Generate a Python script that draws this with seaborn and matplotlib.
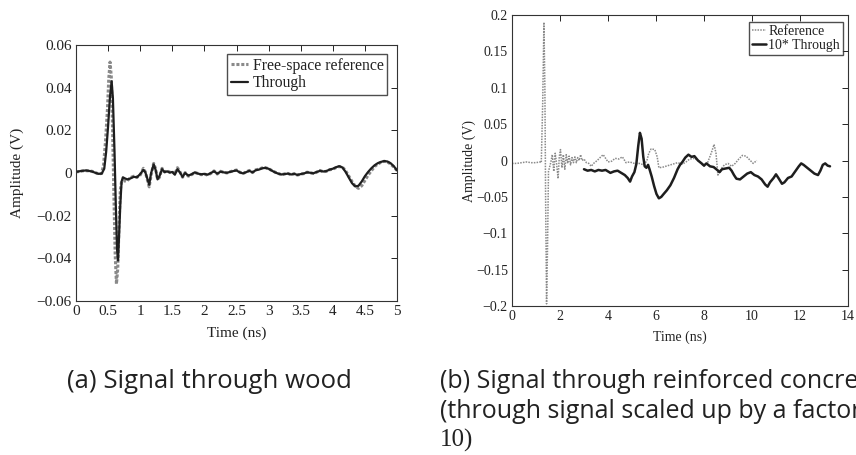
import numpy as np
import pandas as pd
import matplotlib
matplotlib.use("Agg")
import matplotlib.pyplot as plt
from matplotlib.ticker import FixedLocator, FixedFormatter
import seaborn as sns

# ---- (a) Signal through wood ----
wood_ref_t = [0.00, 0.05, 0.10, 0.15, 0.20, 0.25, 0.30, 0.35, 0.40, 0.43, 0.46, 0.49, 0.51, 0.53,
              0.55, 0.57, 0.59, 0.61, 0.63, 0.65, 0.67, 0.69, 0.71, 0.74, 0.78, 0.82, 0.86, 0.90,
              0.95, 1.00, 1.05, 1.08, 1.11, 1.14, 1.17, 1.21, 1.24, 1.27, 1.30, 1.34, 1.38, 1.42,
              1.46, 1.50, 1.54, 1.58, 1.62, 1.66, 1.70, 1.75, 1.80, 1.85, 1.90, 1.95, 2.00, 2.05,
              2.10, 2.15, 2.20, 2.25, 2.30, 2.35, 2.40, 2.45, 2.50, 2.55, 2.60, 2.65, 2.70, 2.75,
              2.80, 2.85, 2.90, 2.95, 3.00, 3.05, 3.10, 3.15, 3.20, 3.25, 3.30, 3.35, 3.40, 3.45,
              3.50, 3.55, 3.60, 3.65, 3.70, 3.75, 3.80, 3.85, 3.90, 3.95, 4.00, 4.05, 4.10, 4.15,
              4.20, 4.25, 4.30, 4.35, 4.40, 4.45, 4.50, 4.55, 4.60, 4.65, 4.70, 4.75, 4.80, 4.85,
              4.90, 4.95, 5.00]
wood_ref_v = [0.0005, 0.0007, 0.0010, 0.0011, 0.0010, 0.0008, 0.0002, -0.0004, -0.0002, 0.004,
              0.015, 0.030, 0.044, 0.052, 0.045, 0.020, -0.010, -0.038, -0.052, -0.045, -0.025,
              -0.008, -0.004, -0.0035, -0.004, -0.003, -0.002, -0.0015, -0.0020, -0.0010, 0.0022,
              0.0005, -0.003, -0.0065, -0.001, 0.0045, 0.002, -0.003, -0.002, 0.0022, 0.0005,
              0.0010, 0.0004, 0.0006, -0.0005, 0.0025, 0.0005, -0.0020, 0.0002, -0.0015, -0.0008,
              0.0002, -0.0002, -0.0008, -0.0005, -0.0010, -0.0002, 0.0010, -0.0005, 0.0008, 0.0004,
              0.0000, 0.0006, 0.0010, 0.0014, 0.0004, -0.0003, 0.0005, 0.0012, 0.0002, 0.0015,
              0.0018, 0.0024, 0.0025, 0.0020, 0.0012, 0.0004, -0.0002, -0.0008, -0.0004, -0.0002,
              -0.0008, -0.0003, -0.0010, -0.0005, -0.0003, 0.0004, 0.0000, -0.0002, 0.0004, 0.0012,
              0.0006, 0.0008, 0.0015, 0.0018, 0.0025, 0.0030, 0.0028, 0.0010, -0.0015, -0.0040,
              -0.0062, -0.0072, -0.0060, -0.0035, -0.0010, 0.0010, 0.0030, 0.0042, 0.0050, 0.0055,
              0.0052, 0.0042, 0.0028, 0.0012]

wood_thr_t = [0.00, 0.05, 0.10, 0.15, 0.20, 0.25, 0.30, 0.35, 0.40, 0.44, 0.47, 0.50, 0.53, 0.555,
              0.575, 0.60, 0.62, 0.64, 0.655, 0.67, 0.69, 0.71, 0.73, 0.76, 0.80, 0.85, 0.90, 0.95,
              1.00, 1.05, 1.08, 1.11, 1.14, 1.17, 1.21, 1.24, 1.27, 1.30, 1.34, 1.38, 1.42, 1.46,
              1.50, 1.54, 1.58, 1.62, 1.66, 1.70, 1.75, 1.80, 1.85, 1.90, 1.95, 2.00, 2.05, 2.10,
              2.15, 2.20, 2.25, 2.30, 2.35, 2.40, 2.45, 2.50, 2.55, 2.60, 2.65, 2.70, 2.75, 2.80,
              2.85, 2.90, 2.95, 3.00, 3.05, 3.10, 3.15, 3.20, 3.25, 3.30, 3.35, 3.40, 3.45, 3.50,
              3.55, 3.60, 3.65, 3.70, 3.75, 3.80, 3.85, 3.90, 3.95, 4.00, 4.05, 4.10, 4.15, 4.20,
              4.25, 4.30, 4.35, 4.40, 4.45, 4.50, 4.55, 4.60, 4.65, 4.70, 4.75, 4.80, 4.85, 4.90,
              4.95, 5.00]
wood_thr_v = [0.0005, 0.0008, 0.0010, 0.0012, 0.0010, 0.0007, 0.0001, -0.0004, -0.0003, 0.002,
              0.010, 0.022, 0.036, 0.043, 0.035, 0.010, -0.015, -0.036, -0.041, -0.030, -0.015,
              -0.004, -0.002, -0.0025, -0.003, -0.0025, -0.0018, -0.0020, -0.0005, 0.0015, 0.0003,
              -0.0025, -0.0055, 0.0000, 0.0040, 0.0015, -0.0030, -0.0015, 0.0018, 0.0004, 0.0008,
              0.0002, 0.0005, -0.0008, 0.0018, 0.0002, -0.0018, 0.0000, -0.0012, -0.0006, 0.0003,
              -0.0003, -0.0006, -0.0004, -0.0008, 0.0000, 0.0008, -0.0003, 0.0006, 0.0003, 0.0001,
              0.0005, 0.0009, 0.0012, 0.0003, -0.0002, 0.0004, 0.0010, 0.0003, 0.0013, 0.0016,
              0.0022, 0.0024, 0.0020, 0.0011, 0.0003, -0.0003, -0.0007, -0.0005, -0.0003, -0.0007,
              -0.0004, -0.0009, -0.0005, -0.0002, 0.0003, 0.0001, -0.0001, 0.0005, 0.0010, 0.0007,
              0.0009, 0.0016, 0.0020, 0.0027, 0.0032, 0.0026, 0.0005, -0.0022, -0.0048, -0.0063,
              -0.0060, -0.0040, -0.0015, 0.0005, 0.0022, 0.0036, 0.0046, 0.0052, 0.0056, 0.0054,
              0.0046, 0.0032, 0.0012]

wood_xticks = [0, 0.5, 1, 1.5, 2, 2.5, 3, 3.5, 4, 4.5, 5]
wood_xlabels = ["0", "0.5", "1", "1.5", "2", "2.5", "3", "3.5", "4", "4.5", "5"]
wood_yticks = [-0.06, -0.04, -0.02, 0, 0.02, 0.04, 0.06]
wood_ylabels = ["\u22120.06", "\u22120.04", "\u22120.02", "0", "0.02", "0.04", "0.06"]

# ---- (b) Signal through reinforced concrete ----
conc_ref_t = [0.0, 0.2, 0.4, 0.6, 0.8, 1.0, 1.15, 1.22, 1.28, 1.33, 1.37, 1.40, 1.44, 1.48, 1.52,
              1.56, 1.62, 1.68, 1.74, 1.80, 1.86, 1.92, 1.97, 2.02, 2.08, 2.14, 2.20, 2.26, 2.32,
              2.38, 2.44, 2.50, 2.56, 2.62, 2.68, 2.74, 2.80, 2.86, 2.92, 3.00, 3.10, 3.20, 3.30,
              3.40, 3.55, 3.70, 3.80, 3.90, 4.00, 4.15, 4.30, 4.45, 4.60, 4.75, 4.90, 5.10, 5.30,
              5.50, 5.62, 5.70, 5.80, 5.95, 6.05, 6.12, 6.30, 6.50, 6.70, 6.90, 7.10, 7.25, 7.40,
              7.60, 7.80, 8.00, 8.15, 8.30, 8.42, 8.50, 8.58, 8.70, 8.85, 9.00, 9.15, 9.30, 9.45,
              9.60, 9.75, 9.90, 10.05, 10.20]
conc_ref_v = [-0.004, -0.004, -0.003, -0.002, -0.003, -0.003, -0.002, -0.003, 0.080, 0.190, 0.100,
              -0.050, -0.197, -0.120, -0.015, -0.010, -0.002, 0.008, -0.015, 0.010, -0.005, -0.025,
              0.005, 0.015, -0.010, 0.008, -0.012, 0.008, -0.004, 0.006, -0.006, 0.004, -0.003,
              0.005, -0.003, 0.004, 0.000, 0.008, 0.000, 0.002, -0.003, -0.004, -0.008, -0.004,
              0.000, 0.005, 0.008, 0.003, -0.002, -0.001, 0.003, 0.002, 0.005, -0.003, -0.002,
              -0.004, -0.004, -0.006, 0.000, 0.010, 0.016, 0.015, 0.005, -0.010, -0.009, -0.007,
              -0.005, -0.003, -0.005, -0.002, 0.002, 0.003, -0.001, -0.008, -0.003, 0.010, 0.022,
              0.010, -0.020, -0.012, -0.006, -0.004, -0.008, -0.004, 0.002, 0.007, 0.006, 0.001,
              -0.004, 0.000]

conc_thr_t = [3.00, 3.15, 3.30, 3.45, 3.60, 3.75, 3.90, 4.00, 4.10, 4.25, 4.40, 4.55, 4.70, 4.82,
              4.92, 5.00, 5.10, 5.18, 5.26, 5.33, 5.40, 5.47, 5.53, 5.60, 5.67, 5.73, 5.82, 5.92,
              6.02, 6.12, 6.22, 6.32, 6.45, 6.60, 6.75, 6.90, 7.00, 7.10, 7.22, 7.35, 7.48, 7.60,
              7.75, 7.90, 8.00, 8.10, 8.25, 8.40, 8.55, 8.65, 8.75, 8.90, 9.05, 9.15, 9.25, 9.35,
              9.50, 9.65, 9.80, 9.95, 10.10, 10.25, 10.40, 10.55, 10.65, 10.75, 10.90, 11.00, 11.10,
              11.25, 11.35, 11.50, 11.65, 11.80, 11.95, 12.05, 12.15, 12.30, 12.45, 12.60, 12.75,
              12.85, 12.95, 13.05, 13.15, 13.25]
conc_thr_v = [-0.012, -0.014, -0.013, -0.015, -0.013, -0.014, -0.013, -0.015, -0.017, -0.015,
              -0.014, -0.017, -0.020, -0.024, -0.029, -0.022, -0.016, -0.005, 0.020, 0.038, 0.030,
              0.005, -0.008, -0.010, -0.006, -0.012, -0.022, -0.035, -0.046, -0.052, -0.050,
              -0.046, -0.041, -0.034, -0.024, -0.012, -0.006, -0.002, 0.004, 0.008, 0.005, 0.006,
              0.000, -0.004, -0.007, -0.004, -0.008, -0.009, -0.013, -0.016, -0.012, -0.011,
              -0.010, -0.014, -0.020, -0.025, -0.026, -0.022, -0.018, -0.016, -0.020, -0.022,
              -0.026, -0.033, -0.036, -0.030, -0.024, -0.019, -0.024, -0.032, -0.030, -0.024,
              -0.022, -0.015, -0.008, -0.004, -0.006, -0.010, -0.014, -0.018, -0.020, -0.014,
              -0.006, -0.004, -0.007, -0.008]

conc_xticks = [0, 2, 4, 6, 8, 10, 12, 14]
conc_xlabels = ["0", "2", "4", "6", "8", "10", "12", "14"]
conc_yticks = [-0.2, -0.15, -0.1, -0.05, 0, 0.05, 0.1, 0.15, 0.2]
conc_ylabels = ["\u22120.2", "\u22120.15", "\u22120.1", "\u22120.05", "0", "0.05", "0.1", "0.15", "0.2"]

caption_a = "(a) Signal through wood"
caption_b1 = "(b) Signal through reinforced concrete"
caption_b2 = "(through signal scaled up by a factor of"
caption_b3 = "10)"

sns.set_theme(style="white")
plt.rcParams["font.family"] = ["Liberation Serif", "DejaVu Serif"]

REF_COLOR = "#8a8a8a"
THR_COLOR = "#1e1e1e"

fig = plt.figure(figsize=(8.56, 4.55), dpi=100)
ax_a = fig.add_axes([76 / 856, 1 - 301 / 455, 321 / 856, 256 / 455])
ax_b = fig.add_axes([512 / 856, 1 - 306 / 455, 336 / 856, 291 / 455])


def style_axes(ax, xt, xl, yt, yl, xlim, ylim, size, ylpad, xlpad):
    ax.set_xlim(*xlim)
    ax.set_ylim(*ylim)
    ax.xaxis.set_major_locator(FixedLocator(xt))
    ax.xaxis.set_major_formatter(FixedFormatter(xl))
    ax.yaxis.set_major_locator(FixedLocator(yt))
    ax.yaxis.set_major_formatter(FixedFormatter(yl))
    ax.tick_params(direction="in", length=4, width=0.7, colors="#222222",
                   top=True, right=True, labelsize=size, pad=3)
    for s in ax.spines.values():
        s.set_visible(True)
        s.set_linewidth(0.8)
        s.set_color("#333333")
    ax.set_xlabel("Time (ns)", fontsize=size, color="#222222", labelpad=xlpad)
    ax.set_ylabel("Amplitude (V)", fontsize=size, color="#222222", labelpad=ylpad)


# Panel (a)
df_a_ref = pd.DataFrame({"t": wood_ref_t, "v": wood_ref_v})
df_a_thr = pd.DataFrame({"t": wood_thr_t, "v": wood_thr_v})
sns.lineplot(data=df_a_ref, x="t", y="v", ax=ax_a, color=REF_COLOR, lw=2.2,
             linestyle=(0, (1, 0.6)), label="Free-space reference")
sns.lineplot(data=df_a_thr, x="t", y="v", ax=ax_a, color=THR_COLOR, lw=1.6, label="Through")
style_axes(ax_a, wood_xticks, wood_xlabels, wood_yticks, wood_ylabels, (0, 5), (-0.06, 0.06),
           11, 9, 6)
leg = ax_a.legend(loc="upper right", bbox_to_anchor=(0.97, 0.965), fontsize=11.3, frameon=True,
                  fancybox=False, edgecolor="#222222", handlelength=1.1, handletextpad=0.3,
                  borderpad=0.25, labelspacing=0.1, borderaxespad=0)
leg.get_frame().set_linewidth(1.0)
for txt in leg.get_texts():
    txt.set_color("#222222")

# Panel (b)
df_b_ref = pd.DataFrame({"t": conc_ref_t, "v": conc_ref_v})
df_b_thr = pd.DataFrame({"t": conc_thr_t, "v": conc_thr_v})
sns.lineplot(data=df_b_ref, x="t", y="v", ax=ax_b, color=REF_COLOR, lw=1.1,
             linestyle=(0, (1, 0.8)), label="Reference")
sns.lineplot(data=df_b_thr, x="t", y="v", ax=ax_b, color=THR_COLOR, lw=1.8, label="10* Through")
style_axes(ax_b, conc_xticks, conc_xlabels, conc_yticks, conc_ylabels, (0, 14), (-0.2, 0.2),
           10, 0, 5)
leg = ax_b.legend(loc="upper right", bbox_to_anchor=(0.985, 0.975), fontsize=10, frameon=True,
                  fancybox=False, edgecolor="#222222", handlelength=1.0, handletextpad=0.2,
                  borderpad=0.2, labelspacing=0.05, borderaxespad=0)
leg.get_frame().set_linewidth(1.0)
for txt in leg.get_texts():
    txt.set_color("#222222")

# Sub-figure captions (the right-hand caption runs past the figure edge)
cap_font = ["Open Sans", "DejaVu Sans"]
fig.text(67 / 856, 1 - 381 / 455, caption_a, family=cap_font, fontsize=18.5,
         va="center", ha="left", color="#222222")
fig.text(440 / 856, 1 - 381 / 455, caption_b1, family=cap_font, fontsize=18,
         va="center", ha="left", color="#222222")
fig.text(440 / 856, 1 - 411 / 455, caption_b2, family=cap_font, fontsize=18,
         va="center", ha="left", color="#222222")
fig.text(440 / 856, 1 - 440 / 455, caption_b3, family=["Liberation Serif"], fontsize=18,
         va="center", ha="left", color="#222222")

fig.savefig("out.png", dpi=100)
